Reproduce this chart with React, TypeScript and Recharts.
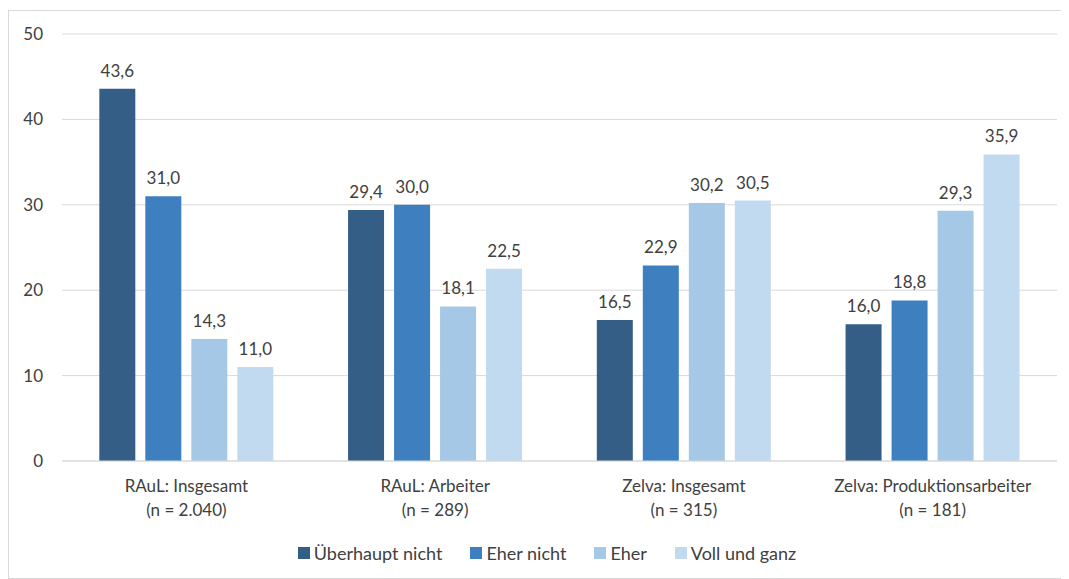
import React from "react";
import { BarChart, Bar, XAxis, YAxis, CartesianGrid, Legend, LabelList } from "recharts";

const categories = ["RAuL: Insgesamt", "RAuL: Arbeiter", "Zelva: Insgesamt", "Zelva: Produktionsarbeiter"];
const sampleSizes = ["(n = 2.040)", "(n = 289)", "(n = 315)", "(n = 181)"];
const seriesNames = ["Überhaupt nicht", "Eher nicht", "Eher", "Voll und ganz"];
const ueberhauptNicht = [43.6, 29.4, 16.5, 16.0];
const eherNicht = [31.0, 30.0, 22.9, 18.8];
const eher = [14.3, 18.1, 30.2, 29.3];
const vollUndGanz = [11.0, 22.5, 30.5, 35.9];
const yTicks = [0, 10, 20, 30, 40, 50];
const colors = ["#355E87", "#3E7FBF", "#A5C8E6", "#C2DAEF"];

const seriesValues = [ueberhauptNicht, eherNicht, eher, vollUndGanz];
const data = categories.map((c, i) => {
  const row: any = { name: c, n: sampleSizes[i] };
  seriesNames.forEach((s, j) => {
    row[s] = seriesValues[j][i];
  });
  return row;
});

const FONT = "Lato, sans-serif";
const FS = 17;
const TXT = "#404040";
const fmt = (v: any) => Number(v).toFixed(1).replace(".", ",");

const CatTick = (props: any) => {
  const { x, y, payload, index } = props;
  return (
    <g transform={`translate(${x},${y})`}>
      <text x={0} y={23} textAnchor="middle" fill={TXT} fontSize={FS} fontFamily={FONT}>
        {payload.value}
      </text>
      <text x={0} y={47} textAnchor="middle" fill={TXT} fontSize={FS} fontFamily={FONT}>
        {sampleSizes[index]}
      </text>
    </g>
  );
};

const LegendContent = () => (
  <div style={{ display: "flex", justifyContent: "center", fontFamily: FONT, fontSize: 18, color: TXT, paddingLeft: 28 }}>
    {seriesNames.map((s, j) => (
      <div key={s} style={{ display: "flex", alignItems: "center", marginRight: j < seriesNames.length - 1 ? 28 : 0 }}>
        <span style={{ display: "inline-block", width: 12, height: 12, background: colors[j], marginRight: 4 }} />
        <span>{s}</span>
      </div>
    ))}
  </div>
);

export default function App() {
  return (
    <div style={{ marginTop: 2, width: 1054, height: 569, border: "1px solid #d9d9d9", boxSizing: "border-box", background: "#fff" }}>
      <BarChart
        width={1052}
        height={567}
        data={data}
        margin={{ top: 23, right: 4, left: 0, bottom: 14 }}
        barCategoryGap="15%"
        barGap={10}
      >
        <CartesianGrid vertical={false} stroke="#d9d9d9" />
        <XAxis
          dataKey="name"
          tick={<CatTick />}
          tickLine={false}
          axisLine={{ stroke: "#d9d9d9" }}
          height={81}
          interval={0}
        />
        <YAxis
          domain={[0, 50]}
          ticks={yTicks}
          width={53}
          axisLine={false}
          tickLine={false}
          tick={{ fill: TXT, fontSize: FS, fontFamily: FONT }}
          tickMargin={13}
        />
        <Legend verticalAlign="bottom" content={<LegendContent />} />
        {seriesNames.map((s, j) => (
          <Bar key={s} dataKey={s} fill={colors[j]} isAnimationActive={false}>
            <LabelList
              dataKey={s}
              position="top"
              offset={12}
              formatter={fmt}
              style={{ fill: TXT, fontSize: FS, fontFamily: FONT }}
            />
          </Bar>
        ))}
      </BarChart>
    </div>
  );
}
